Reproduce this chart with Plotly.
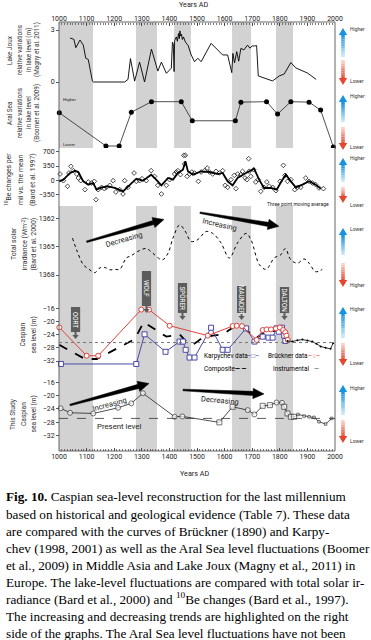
import math
import plotly.graph_objects as go

# ---------------- data ----------------
x_ticks = list(range(1000, 2001, 100))

years_lake = [1040, 1054, 1061, 1076, 1088, 1097, 1106, 1121, 1125, 1238, 1250, 1259, 1274, 1292, 1310,
              1335, 1358, 1371, 1389, 1407, 1411, 1414, 1417, 1419, 1425, 1429, 1433, 1436, 1438, 1441,
              1444, 1447, 1451, 1458, 1468, 1473, 1479, 1491, 1503, 1515, 1551, 1593, 1611, 1626, 1630,
              1636, 1644, 1651, 1659, 1670, 1683, 1692, 1700, 1708, 1716, 1722, 1774, 1798, 1816, 1840,
              1858, 1900, 1932]
lake_level = [2.54, 2.46, 1.98, 2.42, 2.13, 1.37, 1.30, 0.05, 0.0, 0.0, 0.15, 1.35, 0.05, 1.15, 0.0,
              1.90, 0.63, 1.15, 0.50, 0.80, 2.30, 2.20, 0.60, 2.40, 2.60, 2.35, 2.80, 2.50, 2.95, 2.65,
              2.75, 2.45, 2.60, 2.30, 2.10, 1.85, 1.56, 1.17, 1.37, 1.17, 2.23, 1.56, 1.56, 0.54, 1.65,
              1.10, 1.75, 1.20, 1.94, 1.85, 2.13, 1.95, 2.08, 2.08, 2.10, 0.35, 0.06, 0.35, 0.46, 1.12,
              0.81, 0.52, 0.15]

years_aral = [1001, 1170, 1218, 1262, 1335, 1443, 1483, 1639, 1659, 1752, 1792, 1840, 1906, 1948, 1994]
aral_level = [0.75, 0.0, 0.0, 0.76, 1.0, 1.0, 0.57, 0.57, 0.99, 1.0, 0.72, 1.0, 0.99, 0.81, -0.02]

years_be = [1004, 1016, 1031, 1036, 1043, 1052, 1064, 1070, 1079, 1094, 1106, 1118, 1128, 1134, 1142,
            1154, 1164, 1172, 1184, 1196, 1206, 1220, 1232, 1238, 1250, 1272, 1280, 1292, 1301, 1316,
            1334, 1346, 1358, 1371, 1389, 1401, 1419, 1425, 1431, 1440, 1452, 1458, 1455, 1464, 1473,
            1481, 1491, 1505, 1515, 1527, 1537, 1545, 1557, 1569, 1581, 1593, 1602, 1611, 1623, 1635,
            1641, 1647, 1659, 1665, 1674, 1681, 1687, 1689, 1695, 1705, 1713, 1722, 1731, 1743, 1753,
            1762, 1774, 1786, 1801, 1813, 1819, 1828, 1840, 1854, 1864, 1876, 1894, 1906, 1918, 1930,
            1942, 1958]
be_values = [154, -9, -147, 179, 342, 236, 154, 57, -9, -229, -41, -66, -25, -473, -229,
             -172, -204, -172, -123, -9, -286, -229, -335, -9, -172, 179, -25, -9, 40, -9,
             236, 97, -123, -335, -123, 16, 154, 203, 236, 138, 611, 611, 399, 97, 154,
             203, 179, -25, 203, 236, 301, 203, 154, 220, 179, 236, -123, -172, 16, 122,
             -204, 154, 138, 220, 57, 16, 529, 220, 97, 260, -41, 16, -270, -172, -41,
             -147, -172, -253, -25, 366, 122, -25, 16, -229, -172, -172, 57, -25, -66, -107,
             -188, -204]

years_be_avg = [1000, 1016, 1040, 1058, 1070, 1088, 1106, 1124, 1136, 1154, 1178, 1202, 1232, 1256, 1280,
                1304, 1334, 1352, 1371, 1395, 1413, 1431, 1449, 1458, 1467, 1485, 1515, 1545, 1575, 1593,
                1611, 1629, 1647, 1671, 1689, 1707, 1725, 1743, 1768, 1789, 1806, 1822, 1840, 1858, 1882,
                1906, 1930, 1948]
be_avg = [-25, 16, 179, 236, 203, -25, -107, -66, -229, -172, -147, -188, -270, -123, 40,
          -9, 138, 16, -123, 57, 16, 179, 260, 464, 220, 138, 220, 203, 154, 179,
          -25, -123, 57, 154, 220, 285, 16, -188, -188, -229, -25, 138, -25, -172, -107,
          -25, -107, -204]

years_tsi = [1049, 1064, 1088, 1109, 1130, 1148, 1166, 1184, 1202, 1220, 1244, 1262, 1286, 1316, 1340,
             1374, 1395, 1413, 1437, 1455, 1479, 1503, 1533, 1557, 1587, 1617, 1647, 1678, 1696, 1726,
             1750, 1780, 1804, 1820, 1840, 1864, 1888, 1906, 1930, 1954]
tsi_values = [1364.1, 1365.35, 1366.9, 1367.4, 1367.75, 1367.25, 1367.2, 1367.45, 1367.4, 1367.4,
              1366.2, 1365.95, 1365.5, 1365.2, 1365.7, 1366.4, 1365.7, 1364.1, 1362.7, 1363.25,
              1364.45, 1364.25, 1363.4, 1363.6, 1364.6, 1366.2, 1364.6, 1363.6, 1364.3, 1366.9,
              1367.4, 1366.2, 1365.85, 1365.2, 1366.4, 1366.75, 1366.3, 1366.75, 1367.65, 1367.4]

years_bruckner = [1001, 1100, 1142, 1298, 1326, 1401, 1539, 1629, 1644, 1663, 1716, 1738, 1752, 1768,
                  1786, 1800, 1812, 1820, 1824, 1829]
bruckner_level = [-21.8, -30.4, -30.4, -16.4, -16.4, -21.3, -24.3, -21.4, -21.3, -21.4, -25.6, -22.6,
                  -22.4, -22.4, -22.1, -21.8, -22.6, -23.3, -24.3, -25.6]

years_karpychev = [1007, 1280, 1310, 1386, 1437, 1449, 1459, 1473, 1491, 1551, 1593, 1611, 1678, 1708,
                   1738, 1759, 1774, 1788, 1796, 1808, 1816, 1820]
karpychev_level = [-32.9, -32.9, -23.9, -29.2, -26.1, -26.1, -28.6, -30.95, -30.95, -21.9, -28.6, -28.6,
                   -22.1, -26.1, -24.6, -24.9, -24.9, -22.1, -23.1, -21.9, -24.3, -25.9]

years_composite = [1001, 1094, 1137, 1274, 1307, 1358, 1389, 1437, 1461, 1485, 1521, 1557, 1593, 1635,
                   1665, 1714, 1744, 1780, 1804, 1824]
composite_level = [-27.1, -31.4, -31.4, -25.4, -20.2, -23.1, -24.6, -23.9, -26.1, -27.1, -24.9, -24.3,
                   -23.9, -21.6, -21.6, -25.1, -23.3, -22.9, -22.1, -25.1]

years_instr = [1828, 1846, 1864, 1882, 1900, 1918, 1933, 1948, 1966, 1984, 1993]
instr_level = [-25.9, -26.1, -25.7, -25.5, -25.8, -26.1, -26.8, -27.6, -28.0, -28.3, -26.6]

years_study = [1006, 1040, 1124, 1214, 1262, 1304, 1419, 1447, 1581, 1629, 1684, 1708, 1738, 1764,
               1788, 1808, 1816, 1828, 1840, 1852, 1866, 1888, 1906, 1924, 1942, 1966, 1988]
study_level = [-23.85, -25.2, -25.4, -23.7, -22.35, -19.3, -26.4, -26.3, -28.1, -23.4, -24.4, -25.7,
               -23.1, -22.9, -22.1, -22.2, -23.4, -25.4, -26.4, -26.4, -25.7, -26.2, -26.4, -26.6,
               -27.9, -28.6, -26.9]

caspian_present_level = -26.4
study_present_level = -26.9

minima_names = ["OORT", "WOLF", "SPÖRER", "MAUNDER", "DALTON"]
minima_start = [1000, 1279, 1417, 1627, 1786]
minima_end = [1123, 1355, 1478, 1696, 1848]

caption_lines = [
    "<b>Fig. 10.</b> Caspian sea-level reconstruction for the last millennium",
    "based on historical and geological evidence (Table 7). These data",
    "are compared with the curves of Brückner (1890) and Karpy-",
    "chev (1998, 2001) as well as the Aral Sea level fluctuations (Boomer",
    "et al., 2009) in Middle Asia and Lake Joux (Magny et al., 2011) in",
    "Europe. The lake-level fluctuations are compared with total solar ir-",
    "radiance (Bard et al., 2000) and <sup>10</sup>Be changes (Bard et al., 1997).",
    "The increasing and decreasing trends are highlighted on the right",
    "side of the graphs. The Aral Sea level fluctuations have not been",
]

# ---------------- geometry helpers ----------------
W, H = 371, 640
L, R, T, B = 59, 36, 22, 189
PW = W - L - R
PH = H - T - B
SANS = "Roboto"
SERIF = "Liberation Serif"


def fx(px):
    return (px - L) / PW


def fy(py):
    return (T + PH - py) / PH


def yaxis_cfg(top, bot, v1, p1, v2, p2, ticks):
    slope = (v2 - v1) / (p2 - p1)
    v_top = v1 + slope * (top - p1)
    v_bot = v1 + slope * (bot - p1)
    return dict(domain=[fy(bot), fy(top)], range=[v_bot, v_top], anchor="free", position=0,
                showgrid=False, zeroline=False, showline=False, ticks="outside", ticklen=3,
                tickwidth=0.8, tickcolor="#333", tickvals=ticks, automargin=False,
                tickfont=dict(size=7, family=SANS, color="#222"), fixedrange=True)


def poly(pts, color, lw=0.0):
    path = "M " + " L ".join(f"{fx(px):.5f},{fy(py):.5f}" for px, py in pts) + " Z"
    return dict(type="path", xref="paper", yref="paper", path=path, fillcolor=color,
                line=dict(color=color, width=lw))


fig = go.Figure()

# ---- traces ----
fig.add_trace(go.Scatter(x=years_lake, y=lake_level, mode="lines", line=dict(color="black", width=0.9),
                         xaxis="x", yaxis="y"))
fig.add_trace(go.Scatter(x=years_lake, y=lake_level, mode="lines", opacity=0, xaxis="x2", yaxis="y",
                         hoverinfo="skip"))
fig.add_trace(go.Scatter(x=years_aral, y=aral_level, mode="lines+markers",
                         line=dict(color="#222", width=0.8), marker=dict(size=5, color="black"),
                         xaxis="x", yaxis="y2", cliponaxis=False))
fig.add_trace(go.Scatter(x=years_be, y=be_values, mode="markers",
                         marker=dict(symbol="diamond-open", size=3.6, color="black", line=dict(width=0.7)),
                         xaxis="x", yaxis="y3", cliponaxis=False))
fig.add_trace(go.Scatter(x=years_be_avg, y=be_avg, mode="lines", line=dict(color="black", width=1.8),
                         xaxis="x", yaxis="y3"))
fig.add_trace(go.Scatter(x=years_tsi, y=tsi_values, mode="lines",
                         line=dict(color="black", width=1, dash="dot", shape="spline"),
                         xaxis="x", yaxis="y4"))
fig.add_trace(go.Scatter(x=years_composite, y=composite_level, mode="lines",
                         line=dict(color="black", width=1.8, dash="dash"), xaxis="x", yaxis="y5"))
fig.add_trace(go.Scatter(x=years_karpychev, y=karpychev_level, mode="lines+markers",
                         line=dict(color="#4a4aa8", width=1),
                         marker=dict(symbol="square", size=5, color="white",
                                     line=dict(color="#4a4aa8", width=1)),
                         xaxis="x", yaxis="y5", cliponaxis=False))
fig.add_trace(go.Scatter(x=years_bruckner, y=bruckner_level, mode="lines+markers",
                         line=dict(color="#e0403a", width=1),
                         marker=dict(symbol="circle", size=5, color="white",
                                     line=dict(color="#e0403a", width=1)),
                         xaxis="x", yaxis="y5", cliponaxis=False))
fig.add_trace(go.Scatter(x=years_instr, y=instr_level, mode="lines+markers",
                         line=dict(color="black", width=0.8), marker=dict(size=2, color="black"),
                         xaxis="x", yaxis="y5"))
study_symbols = ["circle" if (i < 8 or i in (10, 11, 14, 15)) else "square" for i in range(len(years_study))]
study_sizes = [5 if i < 20 else 2.5 for i in range(len(years_study))]
fig.add_trace(go.Scatter(x=years_study, y=study_level, mode="lines+markers",
                         line=dict(color="#222", width=0.8),
                         marker=dict(symbol=study_symbols, size=study_sizes, color="white",
                                     line=dict(color="#222", width=0.9)),
                         xaxis="x", yaxis="y6", cliponaxis=False))

shapes = []
annotations = []

# ---- gray solar minima bands ----
for s, e in zip(minima_start, minima_end):
    shapes.append(dict(type="rect", xref="x", yref="paper", x0=s, x1=e, y0=0, y1=1,
                       fillcolor="#d2d2d2", line=dict(width=0), layer="below"))

# ---- frame ----
shapes.append(dict(type="rect", xref="paper", yref="paper", x0=0, x1=1, y0=0, y1=1,
                   line=dict(color="#555", width=0.9)))

# ---- present levels ----
shapes.append(dict(type="line", xref="paper", yref="y5", x0=0, x1=1, y0=caspian_present_level,
                   y1=caspian_present_level, line=dict(color="#777", width=1, dash="dot")))
shapes.append(dict(type="line", xref="paper", yref="y6", x0=0, x1=1, y0=study_present_level,
                   y1=study_present_level, line=dict(color="#333", width=0.8, dash="dash")))

# ---- solar minimum labels ----
label_boxes = [(307, 332, 339), (271, 306, 313), (283, 313, 320), (286, 313, 320), (287, 313, 320)]
for name, s, e, (bt, bb, tip) in zip(minima_names, minima_start, minima_end, label_boxes):
    mid = (s + e) / 2 if name != "OORT" else 1060
    half = 4.6 * 1000 / PW
    shapes.append(dict(type="rect", xref="x", yref="paper", x0=mid - half, x1=mid + half,
                       y0=fy(bb), y1=fy(bt), fillcolor="#5c5c5c", line=dict(width=0)))
    annotations.append(dict(x=mid, y=fy((bt + bb) / 2), xref="x", yref="paper", text=name,
                            showarrow=False, textangle=90,
                            font=dict(size=6.3, family=SANS, color="white")))
    cx = 59 + (mid - 1000) * PW / 1000.0
    shapes.append(poly([(cx - 1, bb), (cx + 1, bb), (cx + 1, tip - 4), (cx + 3.2, tip - 4),
                        (cx, tip), (cx - 3.2, tip - 4), (cx - 1, tip - 4)], "#5c5c5c"))


# ---- big black trend arrows ----
def wedge(tail, tip, w_tail=1.6, w_base=4.2, head_half=5.2, head_len=11):
    dx, dy = tip[0] - tail[0], tip[1] - tail[1]
    ln = math.hypot(dx, dy)
    ux, uy = dx / ln, dy / ln
    nx, ny = -uy, ux
    bx, by = tip[0] - ux * head_len, tip[1] - uy * head_len
    pts = [
        (tail[0] + nx * w_tail / 2, tail[1] + ny * w_tail / 2),
        (bx + nx * w_base / 2, by + ny * w_base / 2),
        (bx + nx * head_half, by + ny * head_half),
        tip,
        (bx - nx * head_half, by - ny * head_half),
        (bx - nx * w_base / 2, by - ny * w_base / 2),
        (tail[0] - nx * w_tail / 2, tail[1] - ny * w_tail / 2),
    ]
    return poly(pts, "black", 0.5)


shapes.append(wedge((86.7, 241.7), (164, 219.5)))
shapes.append(wedge((200, 212.7), (279, 226.3)))
shapes.append(wedge((70, 405), (149, 383.5)))
shapes.append(wedge((183, 390), (264, 394)))

trend_texts = [("Decreasing", 124, 239.5, -16), ("Increasing", 219, 225, 13),
               ("Increasing", 109, 404.5, -15), ("Decreasing", 220, 400.5, 5)]
for txt, px, py, ang in trend_texts:
    annotations.append(dict(x=fx(px), y=fy(py), xref="paper", yref="paper", text=txt, showarrow=False,
                            textangle=ang, font=dict(size=7.6, family=SANS, color="#222")))


# ---- right-side gradient arrows ----
def lerp(c1, c2, t):
    a = [int(c1[i:i + 2], 16) for i in (1, 3, 5)]
    b = [int(c2[i:i + 2], 16) for i in (1, 3, 5)]
    return "#" + "".join(f"{int(round(a[k] + (b[k] - a[k]) * t)):02x}" for k in range(3))


def grad_arrow(xc, y_head, y_tail, c_head, c_tail, n=10):
    out = []
    head_len = 7
    d = 1 if y_tail > y_head else -1
    base = y_head + d * head_len
    for i in range(n):
        t0 = i / n
        t1 = (i + 1) / n
        ya = base + (y_tail - base) * t0
        yb = base + (y_tail - base) * t1
        col = lerp(c_head, c_tail, (t0 + t1) / 2)
        out.append(dict(type="line", xref="paper", yref="paper", x0=fx(xc), x1=fx(xc),
                        y0=fy(ya), y1=fy(yb), line=dict(color=col, width=3.6)))
    out.append(poly([(xc - 4.2, base), (xc + 4.2, base), (xc, y_head)], c_head))
    return out


BLUE_H, BLUE_T = "#1592e0", "#d2ebf9"
RED_H, RED_T = "#e4462f", "#f9d8cf"
right_arrows = [
    (28, 57, 60, 85, "Higher", 29, "Lower", 81),
    (95, 122, 127, 150, "Higher", 96, "Lower", 147),
    (158, 182, 187, 203, "Higher", 158, "Lower", 205),
    (228, 255, 263, 287, "Lower", 229, "Higher", 285),
    (307, 338, 343, 366, "Higher", 309, "Lower", 363),
    (385, 415, 420, 443, "Higher", 388, "Lower", 441),
]
for bt, bb, rt, rb, top_lbl, ty, bot_lbl, by_ in right_arrows:
    shapes.extend(grad_arrow(343, bt, bb, BLUE_H, BLUE_T))
    shapes.extend(grad_arrow(343, rb, rt, RED_H, RED_T))
    annotations.append(dict(x=fx(348), y=fy(ty), xref="paper", yref="paper", text=top_lbl,
                            xanchor="left", showarrow=False, font=dict(size=5, family=SANS, color="#333")))
    annotations.append(dict(x=fx(348), y=fy(by_), xref="paper", yref="paper", text=bot_lbl,
                            xanchor="left", showarrow=False, font=dict(size=5, family=SANS, color="#333")))

# ---- axis titles (rotated) ----
titles = [
    (["Lake Joux", "relative variations", "in lake level (m)", "(Magny et al. 2011)"], [10, 20, 29, 37], 50, 6.4),
    (["Aral Sea", "relative variations", "in lake level", "(Boomer et al. 2009)"], [10, 20, 29, 37], 113, 6.4),
    (["<sup>10</sup>Be changes per", "mil vs. the mean", "(Bard et al. 1997)"], [9, 21, 33], 180, 6.9),
    (["Total solar", "irradiance (Wm<sup>-2</sup>)", "(Bard et al. 2000)"], [14, 24.5, 33.5], 244, 6.9),
    (["Caspian", "sea level (m)"], [22.5, 33.5], 335, 6.6),
    (["This Study", "Caspian", "sea level (m)"], [13, 24, 33.5], 414, 6.6),
]
for lines, xs, yc, sz in titles:
    for txt, xpx in zip(lines, xs):
        annotations.append(dict(x=fx(xpx), y=fy(yc), xref="paper", yref="paper", text=txt,
                                showarrow=False, textangle=-90,
                                font=dict(size=sz, family=SANS, color="#333")))

# small texts
small_texts = [
    ("Higher", 61, 100, 4.4, "left"), ("Lower", 61, 145, 4.4, "left"),
    ("Three point moving average", 265, 204, 5, "left"),
    ("Present level", 95, 426, 7.8, "left"),
    ("Years AD", 193, 5, 7.2, "center"), ("Years AD", 194, 473, 7.2, "center"),
]
for txt, xpx, ypx, sz, anc in small_texts:
    annotations.append(dict(x=fx(xpx), y=fy(ypx), xref="paper", yref="paper", text=txt, xanchor=anc,
                            showarrow=False, font=dict(size=sz, family=SANS, color="#222")))

# legend of the Caspian panel
legend_items = [
    ("Karpychev data", 202, 356, "black"), ("–□–", 245, 356, "#4a4aa8"),
    ("Brückner data", 266, 356, "black"), ("–○–", 306, 356, "#e0403a"),
    ("Composite", 202, 369, "black"), ("<b>— —</b>", 233, 369, "black"),
    ("Instrumental", 271, 369, "black"), ("—", 312, 369, "#555"),
]
for txt, xpx, ypx, col in legend_items:
    annotations.append(dict(x=fx(xpx), y=fy(ypx), xref="paper", yref="paper", text=txt, xanchor="left",
                            showarrow=False, font=dict(size=6.4, family=SANS, color=col)))

# caption
for i, line in enumerate(caption_lines):
    annotations.append(dict(x=fx(4), y=fy(497 + 17 * i), xref="paper", yref="paper", text=line,
                            xanchor="left", showarrow=False,
                            font=dict(size=13.2, family=SERIF, color="black")))

for a in annotations:
    a.setdefault("xanchor", "center")
    a.setdefault("yanchor", "middle")

xaxis_common = dict(range=[1000, 2000], tickvals=x_ticks, showgrid=False, zeroline=False, showline=False,
                    ticks="inside", ticklen=3, tickwidth=0.8, tickcolor="#333", automargin=False,
                    minor=dict(dtick=10, tick0=1000, ticks="inside", ticklen=1.6, tickcolor="#444",
                               tickwidth=0.7),
                    tickfont=dict(size=7, family=SANS, color="#222"), fixedrange=True)

fig.update_layout(
    width=W, height=H, margin=dict(l=L, r=R, t=T, b=B), paper_bgcolor="white", plot_bgcolor="white",
    showlegend=False, hovermode=False,
    xaxis=dict(**xaxis_common, anchor="free", position=0, side="bottom"),
    xaxis2=dict(**xaxis_common, anchor="free", position=1, side="top", overlaying="x"),
    yaxis=yaxis_cfg(22, 96, 3, 30, 0, 82, [0, 3]),
    yaxis2=dict(**yaxis_cfg(96, 150, 1, 101.7, 0, 146, []), showticklabels=False),
    yaxis3=yaxis_cfg(148, 206, 700, 151.7, 0, 180.3, [700, 350, 0, -350]),
    yaxis4=yaxis_cfg(206, 290, 1362, 218.3, 1368, 275, [1362, 1365, 1368]),
    yaxis5=yaxis_cfg(290, 372, -16, 308.3, -32, 361, [-16, -20, -24, -28, -32]),
    yaxis6=yaxis_cfg(372, 451, -16, 382.3, -32, 435.3, [-16, -20, -24, -28, -32]),
    shapes=shapes, annotations=annotations,
)

fig.write_html("out.html", config={"displayModeBar": False, "staticPlot": True},
               post_script="document.body.style.margin='0';document.body.style.padding='0';")
